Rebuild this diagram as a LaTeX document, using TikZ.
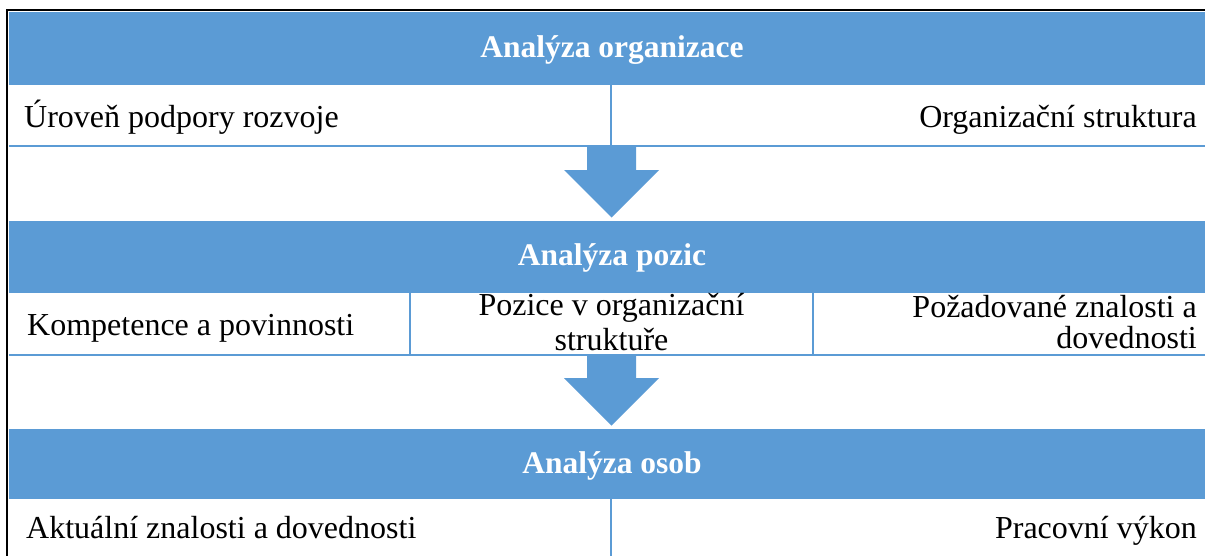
\documentclass[tikz,border=0pt]{standalone}
\usepackage{fontspec}
\setmainfont{Liberation Serif}
\definecolor{bandblue}{HTML}{5B9BD5}
\begin{document}
\begin{tikzpicture}[x=1pt,y=-1pt,
  band/.style={fill=bandblue, draw=none, minimum width=1206pt, anchor=north west, inner sep=0pt},
  head/.style={text=white, font=\fontsize{31.5}{36}\selectfont\bfseries, inner sep=0pt, anchor=base},
  cell/.style={font=\fontsize{32}{31}\selectfont, inner sep=0pt},
  rule/.style={draw=bandblue, line width=2.4pt},
  blockarrow/.style={fill=bandblue, draw=none}]
\useasboundingbox (0,0) rectangle (1205,555);
\fill[white] (0,0) rectangle (1205,555);
\clip (0,0) rectangle (1205,555);
% outer frame
\draw[black, line width=1.6pt] (7,556) -- (7,10) -- (1206,10);
% band 1
\node[band, minimum height=73pt] (b1) at (9,12) {};
\node[head] (h1) at (612,57) {Analýza organizace};
\coordinate (r1l) at (9,146);
\coordinate (r1r) at (1215,146);
\draw[rule] (r1l) -- (r1r);
\coordinate (d1t) at (611,85);
\coordinate (d1b) at (611,146);
\draw[rule] (d1t) -- (d1b);
\node[cell, anchor=base west] (c11) at (24,127) {Úroveň podpory rozvoje};
\node[cell, anchor=base east] (c12) at (1197,127) {Organizační struktura};
% arrow 1
\fill[blockarrow] (587,147) -- (636,147) -- (636,170) -- (659,170) -- (611.5,217.5) -- (564,170) -- (587,170) -- cycle;
% band 2
\node[band, minimum height=72pt] (b2) at (9,221) {};
\node[head] (h2) at (612,265) {Analýza pozic};
\coordinate (r2l) at (9,355);
\coordinate (r2r) at (1215,355);
\draw[rule] (r2l) -- (r2r);
\coordinate (d2t) at (410,293);
\coordinate (d2b) at (410,355);
\draw[rule] (d2t) -- (d2b);
\coordinate (d3t) at (813,293);
\coordinate (d3b) at (813,355);
\draw[rule] (d3t) -- (d3b);
\node[cell, anchor=base west] (c21) at (27,335) {Kompetence a povinnosti};
\node[cell, font=\fontsize{32}{35}\selectfont, align=center, anchor=base] (c22) at (611.5,350) {Pozice v organizační\\struktuře};
\node[cell, align=right, anchor=base east] (c23) at (1197,348) {Požadované znalosti a\\dovednosti};
% arrow 2
\fill[blockarrow] (587,356) -- (636,356) -- (636,378) -- (659,378) -- (611.5,425.5) -- (564,378) -- (587,378) -- cycle;
% band 3
\node[band, minimum height=70pt] (b3) at (9,429) {};
\node[head] (h3) at (612,473) {Analýza osob};
\coordinate (d4t) at (611,499);
\coordinate (d4b) at (611,560);
\draw[rule] (d4t) -- (d4b);
\node[cell, anchor=base west] (c31) at (26,538) {Aktuální znalosti a dovednosti};
\node[cell, anchor=base east] (c32) at (1197,538) {Pracovní výkon};
\end{tikzpicture}
\end{document}
